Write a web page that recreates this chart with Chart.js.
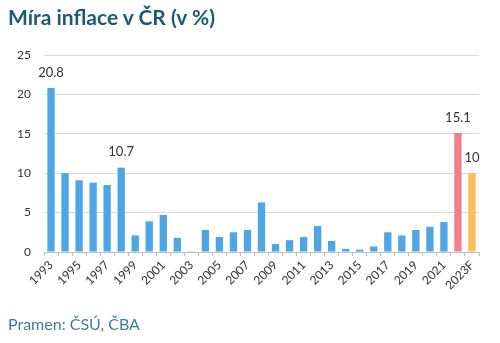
<!DOCTYPE html>
<html>
<head>
<meta charset="utf-8">
<script src="https://cdn.jsdelivr.net/npm/chart.js@4"></script>
<style>
  html, body { margin: 0; padding: 0; background: #fff; }
  #wrap { position: relative; width: 500px; height: 343px; overflow: hidden; }
  #chart { position: absolute; left: 0; top: 0; }
  .title { position: absolute; left: 8px; top: 4px; font-family: Lato, sans-serif; font-weight: bold; font-size: 21px; color: #1b5c75; white-space: nowrap; }
  .source { position: absolute; left: 8px; top: 314px; font-family: Lato, sans-serif; font-size: 16px; color: #3f7f96; white-space: nowrap; }
</style>
</head>
<body>
<div id="wrap">
  <canvas id="chart" width="500" height="343"></canvas>
  <div class="title">Míra inflace v ČR (v %)</div>
  <div class="source">Pramen: ČSÚ, ČBA</div>
</div>
<script>
// Annual inflation rate, Czech Republic (%)
const years = ['1993','1994','1995','1996','1997','1998','1999','2000','2001','2002',
               '2003','2004','2005','2006','2007','2008','2009','2010','2011','2012',
               '2013','2014','2015','2016','2017','2018','2019','2020','2021','2022','2023F'];
const inflation = [20.8, 10.0, 9.1, 8.8, 8.5, 10.7, 2.1, 3.9, 4.7, 1.8,
                   0.1, 2.8, 1.9, 2.5, 2.8, 6.3, 1.0, 1.5, 1.9, 3.3,
                   1.4, 0.4, 0.3, 0.7, 2.5, 2.1, 2.8, 3.2, 3.8, 15.1, 10];
const yTicks = [0, 5, 10, 15, 20, 25];
// bars that carry a value label
const labelledYears = ['1993', '1998', '2022', '2023F'];

const barColors = years.map(y => y === '2022' ? '#f17f8b' : (y === '2023F' ? '#fdbb5c' : '#4ea6e6'));

const valueLabels = {
  id: 'valueLabels',
  afterDatasetsDraw(chart) {
    const ctx = chart.ctx;
    const meta = chart.getDatasetMeta(0);
    ctx.save();
    ctx.font = '13px Lato, sans-serif';
    ctx.fillStyle = '#333333';
    ctx.textAlign = 'center';
    ctx.textBaseline = 'bottom';
    years.forEach((y, i) => {
      if (!labelledYears.includes(y)) return;
      const el = meta.data[i];
      ctx.fillText(String(inflation[i]), el.x, el.y - 9);
    });
    ctx.restore();
  }
};

new Chart(document.getElementById('chart'), {
  type: 'bar',
  data: {
    labels: years,
    datasets: [{
      data: inflation,
      backgroundColor: barColors,
      borderWidth: 0,
      barPercentage: 0.55,
      categoryPercentage: 0.95
    }]
  },
  options: {
    responsive: false,
    animation: false,
    layout: { padding: { top: 55, right: 21, left: 0, bottom: 0 } },
    plugins: { legend: { display: false }, tooltip: { enabled: false } },
    scales: {
      x: {
        afterFit(scale) { scale.height = 91; },
        grid: { display: true, drawOnChartArea: false, drawTicks: true, tickLength: 4, offset: true, color: '#bfbfbf' },
        border: { display: true, color: '#bfbfbf', width: 1 },
        ticks: {
          autoSkip: false,
          minRotation: 45,
          maxRotation: 45,
          padding: 2,
          color: '#333333',
          font: { family: 'Lato, sans-serif', size: 12 },
          callback: (v, i) => (i % 2 === 0 ? years[i] : '')
        }
      },
      y: {
        min: 0,
        max: 25,
        afterFit(scale) { scale.width = 44; },
        afterBuildTicks(scale) { scale.ticks = yTicks.map(v => ({ value: v })); },
        grid: { color: '#d9d9d9', drawTicks: false },
        border: { display: false },
        ticks: {
          padding: 13,
          color: '#333333',
          font: { family: 'Lato, sans-serif', size: 12 }
        }
      }
    }
  },
  plugins: [valueLabels]
});
</script>
</body>
</html>
